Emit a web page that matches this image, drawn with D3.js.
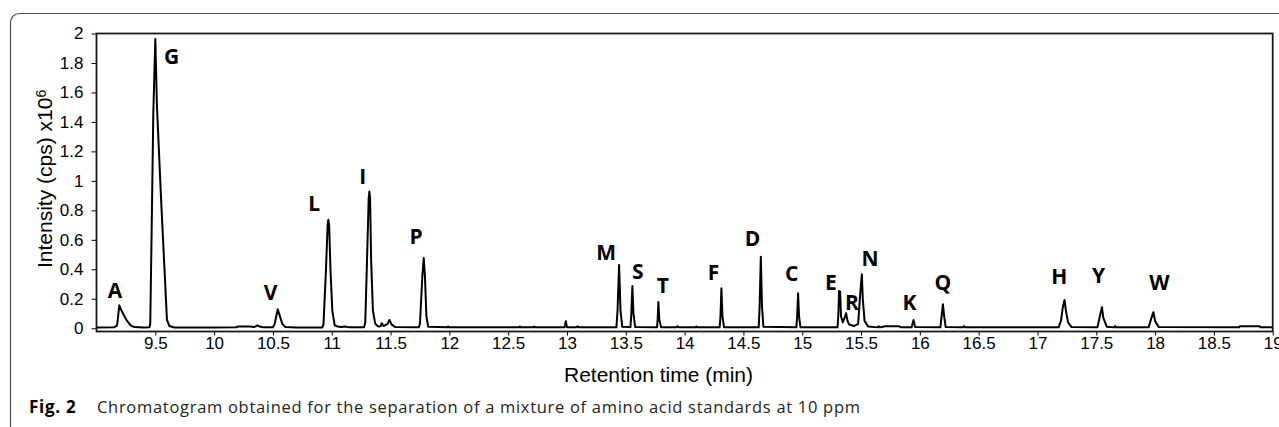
<!DOCTYPE html>
<html>
<head>
<meta charset="utf-8">
<script src="https://cdn.jsdelivr.net/npm/d3@7"></script>
<style>
    body { margin: 0; background: #fff; }
    .tick text { font-family: "Liberation Sans", Arial, sans-serif; font-size: 17px; fill: #000; }
    .tick line { stroke: #000; stroke-width: 1; }
    .label { font-family: "Liberation Sans", Arial, sans-serif; font-size: 21px; fill: #000; }
    .peak { font-family: "Open Sans", sans-serif; font-size: 21px; font-weight: bold; fill: #000; }
    .caption { font-family: "Open Sans", sans-serif; font-size: 16.5px; letter-spacing: 0.7px; fill: #231f20; }
</style>
</head>
<body>
<div id="chartDiv"></div>
<script>
// Chromatogram trace: [retention time (min), intensity x10^6]
var trace = [
    [9.00, 0.005], [9.15, 0.006], [9.175, 0.02], [9.185, 0.09], [9.194, 0.156], [9.21, 0.125],
    [9.235, 0.085], [9.26, 0.05], [9.29, 0.02], [9.32, 0.008], [9.40, 0.005],
    [9.45, 0.006], [9.457, 0.03], [9.469, 0.668], [9.483, 1.463], [9.500, 1.963], [9.514, 1.505],
    [9.531, 1.2], [9.548, 0.893], [9.575, 0.45], [9.599, 0.057], [9.62, 0.015], [9.66, 0.005],
    [10.0, 0.005], [10.19, 0.006], [10.20, 0.012], [10.30, 0.012], [10.34, 0.008], [10.37, 0.02],
    [10.385, 0.012], [10.42, 0.006], [10.50, 0.006], [10.515, 0.03], [10.541, 0.129], [10.56, 0.08],
    [10.58, 0.03], [10.605, 0.008], [10.70, 0.005],
    [10.92, 0.005], [10.93, 0.03], [10.95, 0.38], [10.965, 0.70], [10.971, 0.736], [10.978, 0.70],
    [10.99, 0.38], [11.005, 0.12], [11.025, 0.02], [11.05, 0.012], [11.08, 0.008], [11.11, 0.012],
    [11.15, 0.006], [11.275, 0.006], [11.285, 0.04], [11.30, 0.46], [11.314, 0.88], [11.320, 0.928],
    [11.326, 0.88], [11.335, 0.46], [11.35, 0.12], [11.37, 0.03], [11.395, 0.012], [11.415, 0.014],
    [11.425, 0.034], [11.44, 0.015], [11.475, 0.03], [11.49, 0.056], [11.51, 0.025], [11.54, 0.008],
    [11.74, 0.006], [11.75, 0.03], [11.77, 0.35], [11.782, 0.476], [11.792, 0.36], [11.805, 0.08],
    [11.82, 0.01], [11.98, 0.006], [11.99, 0.012], [12.0, 0.006], [12.59, 0.006], [12.60, 0.012],
    [12.61, 0.006], [12.71, 0.006], [12.72, 0.012], [12.73, 0.006], [12.98, 0.006], [12.99, 0.048],
    [13.0, 0.006], [13.08, 0.006], [13.09, 0.014], [13.10, 0.006],
    [13.42, 0.006], [13.43, 0.12], [13.443, 0.43], [13.455, 0.12], [13.47, 0.01],
    [13.54, 0.008], [13.547, 0.1], [13.556, 0.287], [13.565, 0.1], [13.58, 0.008],
    [13.765, 0.006], [13.771, 0.06], [13.777, 0.179], [13.785, 0.06], [13.80, 0.006],
    [13.93, 0.006], [13.94, 0.014], [13.95, 0.006], [14.09, 0.006], [14.10, 0.012], [14.11, 0.006],
    [14.298, 0.006], [14.305, 0.08], [14.313, 0.272], [14.322, 0.08], [14.335, 0.006],
    [14.63, 0.006], [14.638, 0.15], [14.648, 0.486], [14.658, 0.15], [14.67, 0.01],
    [14.95, 0.006], [14.957, 0.08], [14.965, 0.238], [14.973, 0.08], [14.985, 0.006],
    [15.30, 0.006], [15.308, 0.1], [15.313, 0.253], [15.318, 0.2], [15.322, 0.25], [15.33, 0.08],
    [15.345, 0.04], [15.36, 0.07], [15.373, 0.102], [15.385, 0.05], [15.40, 0.025], [15.44, 0.015],
    [15.475, 0.03], [15.495, 0.25], [15.507, 0.367], [15.515, 0.2], [15.53, 0.05], [15.56, 0.012],
    [15.64, 0.006], [15.65, 0.014], [15.66, 0.006], [15.69, 0.01], [15.70, 0.014], [15.82, 0.014],
    [15.84, 0.006], [15.93, 0.006], [15.946, 0.056], [15.96, 0.008],
    [16.175, 0.006], [16.185, 0.08], [16.196, 0.163], [16.207, 0.08], [16.22, 0.008],
    [16.365, 0.006], [16.375, 0.015], [16.385, 0.006],
    [17.18, 0.006], [17.2, 0.05], [17.215, 0.14], [17.23, 0.192], [17.242, 0.12], [17.26, 0.04],
    [17.29, 0.008], [17.51, 0.006], [17.53, 0.08], [17.548, 0.143], [17.56, 0.07], [17.59, 0.01],
    [17.65, 0.006], [17.66, 0.015], [17.67, 0.006],
    [17.945, 0.006], [17.965, 0.06], [17.986, 0.109], [18.0, 0.05], [18.03, 0.008],
    [18.715, 0.006], [18.72, 0.014], [18.89, 0.014], [18.895, 0.006], [19.0, 0.006]
];

// Amino acid letters and where they sit (time, intensity)
var peakNames = ["A", "G", "V", "L", "I", "P", "M", "S", "T", "F", "D", "C", "E", "R", "N", "K", "Q", "H", "Y", "W"];
var peakTimes = [9.157, 9.639, 10.481, 10.85, 11.264, 11.717, 13.333, 13.602, 13.815, 14.245, 14.577, 14.911, 15.243, 15.422, 15.577, 15.912, 16.196, 17.185, 17.519, 18.037];
var peakLevels = [0.26, 1.845, 0.249, 0.849, 1.03, 0.627, 0.52, 0.389, 0.294, 0.385, 0.611, 0.374, 0.317, 0.181, 0.476, 0.181, 0.312, 0.355, 0.362, 0.317];

// Tick values
var xTicks = [9.5, 10, 10.5, 11, 11.5, 12, 12.5, 13, 13.5, 14, 14.5, 15, 15.5, 16, 16.5, 17, 17.5, 18, 18.5, 19];
var yTicks = [0, 0.2, 0.4, 0.6, 0.8, 1, 1.2, 1.4, 1.6, 1.8, 2];

var canvas = { width: 1279, height: 427 };
var plot = { left: 96.5, right: 1272.7, top: 33.5, bottom: 331.5 };

var svg = d3.select("#chartDiv")
    .append("svg")
    .attr("width", canvas.width)
    .attr("height", canvas.height)
    .style("display", "block")
    .style("background-color", "#fff");

// Rounded outer frame of the figure
svg.append("path")
    .attr("d", "M10.5,427 V24 Q10.5,13.5 21,13.5 H1279")
    .attr("fill", "none")
    .attr("stroke", "#4d4d4d")
    .attr("stroke-width", 1.2);

// Scales
var x = d3.scaleLinear()
    .domain([9, 19])
    .range([plot.left, plot.right]);
var y = d3.scaleLinear()
    .domain([-0.022, 2])
    .range([plot.bottom, plot.top]);

// Axes (domain path removed, the box is drawn separately)
svg.append("g")
    .attr("transform", "translate(0," + plot.bottom + ")")
    .call(d3.axisBottom(x).tickValues(xTicks).tickSize(4).tickPadding(1).tickFormat(d3.format("~g")))
    .call(function(g) { g.select(".domain").remove(); });

svg.append("g")
    .attr("transform", "translate(" + plot.left + ",0)")
    .call(d3.axisLeft(y).tickValues(yTicks).tickSize(5).tickPadding(8).tickFormat(d3.format("~g")))
    .call(function(g) { g.select(".domain").remove(); });

// Chromatogram line
var line = d3.line()
    .x(function(d) { return x(d[0]); })
    .y(function(d) { return y(d[1]); });

svg.append("path")
    .datum(trace)
    .attr("fill", "none")
    .attr("stroke", "#000")
    .attr("stroke-width", 2)
    .attr("stroke-linejoin", "round")
    .attr("d", line);

// Plot box
svg.append("rect")
    .attr("x", plot.left)
    .attr("y", plot.top)
    .attr("width", plot.right - plot.left)
    .attr("height", plot.bottom - plot.top)
    .attr("fill", "none")
    .attr("stroke", "#1a1a1a")
    .attr("stroke-width", 1.8);

// Peak letters
svg.append("g")
    .selectAll("text")
    .data(peakNames)
    .enter()
    .append("text")
    .attr("class", "peak")
    .attr("x", function(d, i) { return x(peakTimes[i]); })
    .attr("y", function(d, i) { return y(peakLevels[i]); })
    .attr("text-anchor", "middle")
    .attr("dominant-baseline", "central")
    .text(function(d) { return d; });

// Axis labels
svg.append("text")
    .attr("class", "label")
    .attr("x", 658.5)
    .attr("y", 382)
    .attr("text-anchor", "middle")
    .text("Retention time (min)");

var yLabel = svg.append("text")
    .attr("class", "label")
    .attr("transform", "translate(51.5,268) rotate(-90)")
    .attr("text-anchor", "start");
yLabel.append("tspan").text("Intensity (cps) x10");
yLabel.append("tspan").attr("dy", -6).style("font-size", "14px").text("6");

// Caption
svg.append("text")
    .attr("class", "caption")
    .attr("x", 29)
    .attr("y", 412.5)
    .style("font-weight", "bold")
    .style("font-size", "17px")
    .style("fill", "#000")
    .text("Fig. 2");

svg.append("text")
    .attr("class", "caption")
    .attr("x", 97)
    .attr("y", 412.5)
    .text("Chromatogram obtained for the separation of a mixture of amino acid standards at 10 ppm");
</script>
</body>
</html>
